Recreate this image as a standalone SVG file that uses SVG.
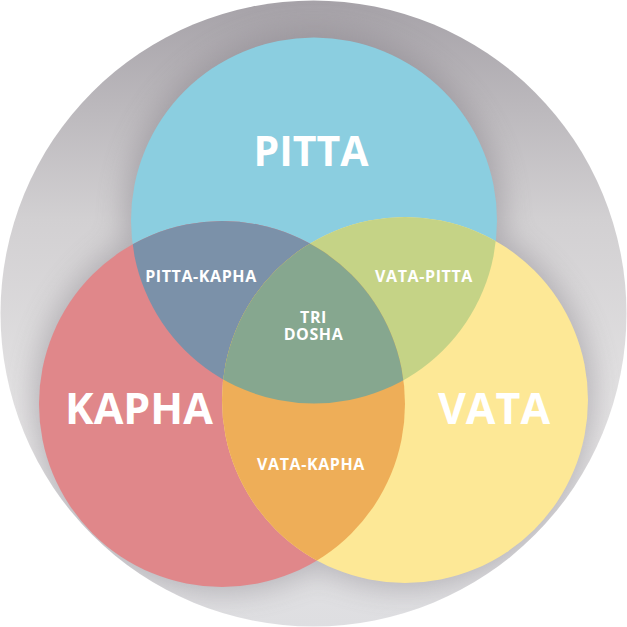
<svg xmlns="http://www.w3.org/2000/svg" width="627" height="627" viewBox="0 0 627 627">
  <defs>
    <linearGradient id="bgGrad" x1="0" y1="0" x2="0" y2="1">
      <stop offset="0" stop-color="#a6a2a8"/>
      <stop offset="0.35" stop-color="#d2d0d2"/>
      <stop offset="0.7" stop-color="#e6e5e6"/>
      <stop offset="1" stop-color="#dedee1"/>
    </linearGradient>
    <filter id="shadow" x="-30%" y="-30%" width="160%" height="160%">
      <feGaussianBlur stdDeviation="14"/>
    </filter>
    <clipPath id="outerClip"><circle cx="313.5" cy="313.5" r="313"/></clipPath>
    <clipPath id="clipBlue"><circle cx="314" cy="220.5" r="183"/></clipPath>
    <clipPath id="clipRed"><circle cx="222" cy="404" r="183"/></clipPath>
    <clipPath id="clipYellow"><circle cx="405" cy="400" r="183"/></clipPath>
    <style>
      .big { font-family: "Open Sans", "Liberation Sans", sans-serif; font-weight: 700; fill: #ffffff; text-anchor: middle; }
      .small { font-family: "Open Sans", "Liberation Sans", sans-serif; font-weight: 700; fill: #ffffff; text-anchor: middle; font-size: 16px; letter-spacing: 0.6px; }
    </style>
  </defs>

  <g id="background">
    <circle cx="313.5" cy="313.5" r="313" fill="url(#bgGrad)"/>
    <g clip-path="url(#outerClip)" filter="url(#shadow)" opacity="0.42">
      <circle cx="314" cy="220.5" r="190" fill="#7d7880"/>
      <circle cx="222" cy="404" r="189" fill="#7d7880"/>
      <circle cx="405" cy="400" r="189" fill="#7d7880"/>
    </g>
  </g>

  <g id="pitta">
    <circle cx="314" cy="220.5" r="183" fill="#8bcee0"/>
    <text class="big" x="311" y="166" font-size="41">PITTA</text>
  </g>
  <g id="kapha">
    <circle cx="222" cy="404" r="183" fill="#e0878a"/>
    <text class="big" x="139" y="424" font-size="43">KAPHA</text>
  </g>
  <g id="vata">
    <circle cx="405" cy="400" r="183" fill="#fde896"/>
    <text class="big" x="494" y="424" font-size="43">VATA</text>
  </g>

  <g id="pitta-kapha">
    <g clip-path="url(#clipBlue)"><circle cx="222" cy="404" r="183" fill="#7b91a9"/></g>
    <text class="small" x="201" y="282">PITTA-KAPHA</text>
  </g>
  <g id="vata-pitta">
    <g clip-path="url(#clipBlue)"><circle cx="405" cy="400" r="183" fill="#c5d386"/></g>
    <text class="small" x="424" y="282">VATA-PITTA</text>
  </g>
  <g id="vata-kapha">
    <g clip-path="url(#clipRed)"><circle cx="405" cy="400" r="183" fill="#eeae58"/></g>
    <text class="small" x="311" y="470">VATA-KAPHA</text>
  </g>
  <g id="tri-dosha">
    <g clip-path="url(#clipBlue)"><g clip-path="url(#clipRed)"><circle cx="405" cy="400" r="183" fill="#86a78f"/></g></g>
    <text class="small" x="313.5" y="323"><tspan x="313.5" y="323">TRI</tspan><tspan x="313.5" y="340">DOSHA</tspan></text>
  </g>

  <g id="connectors"/>
</svg>
